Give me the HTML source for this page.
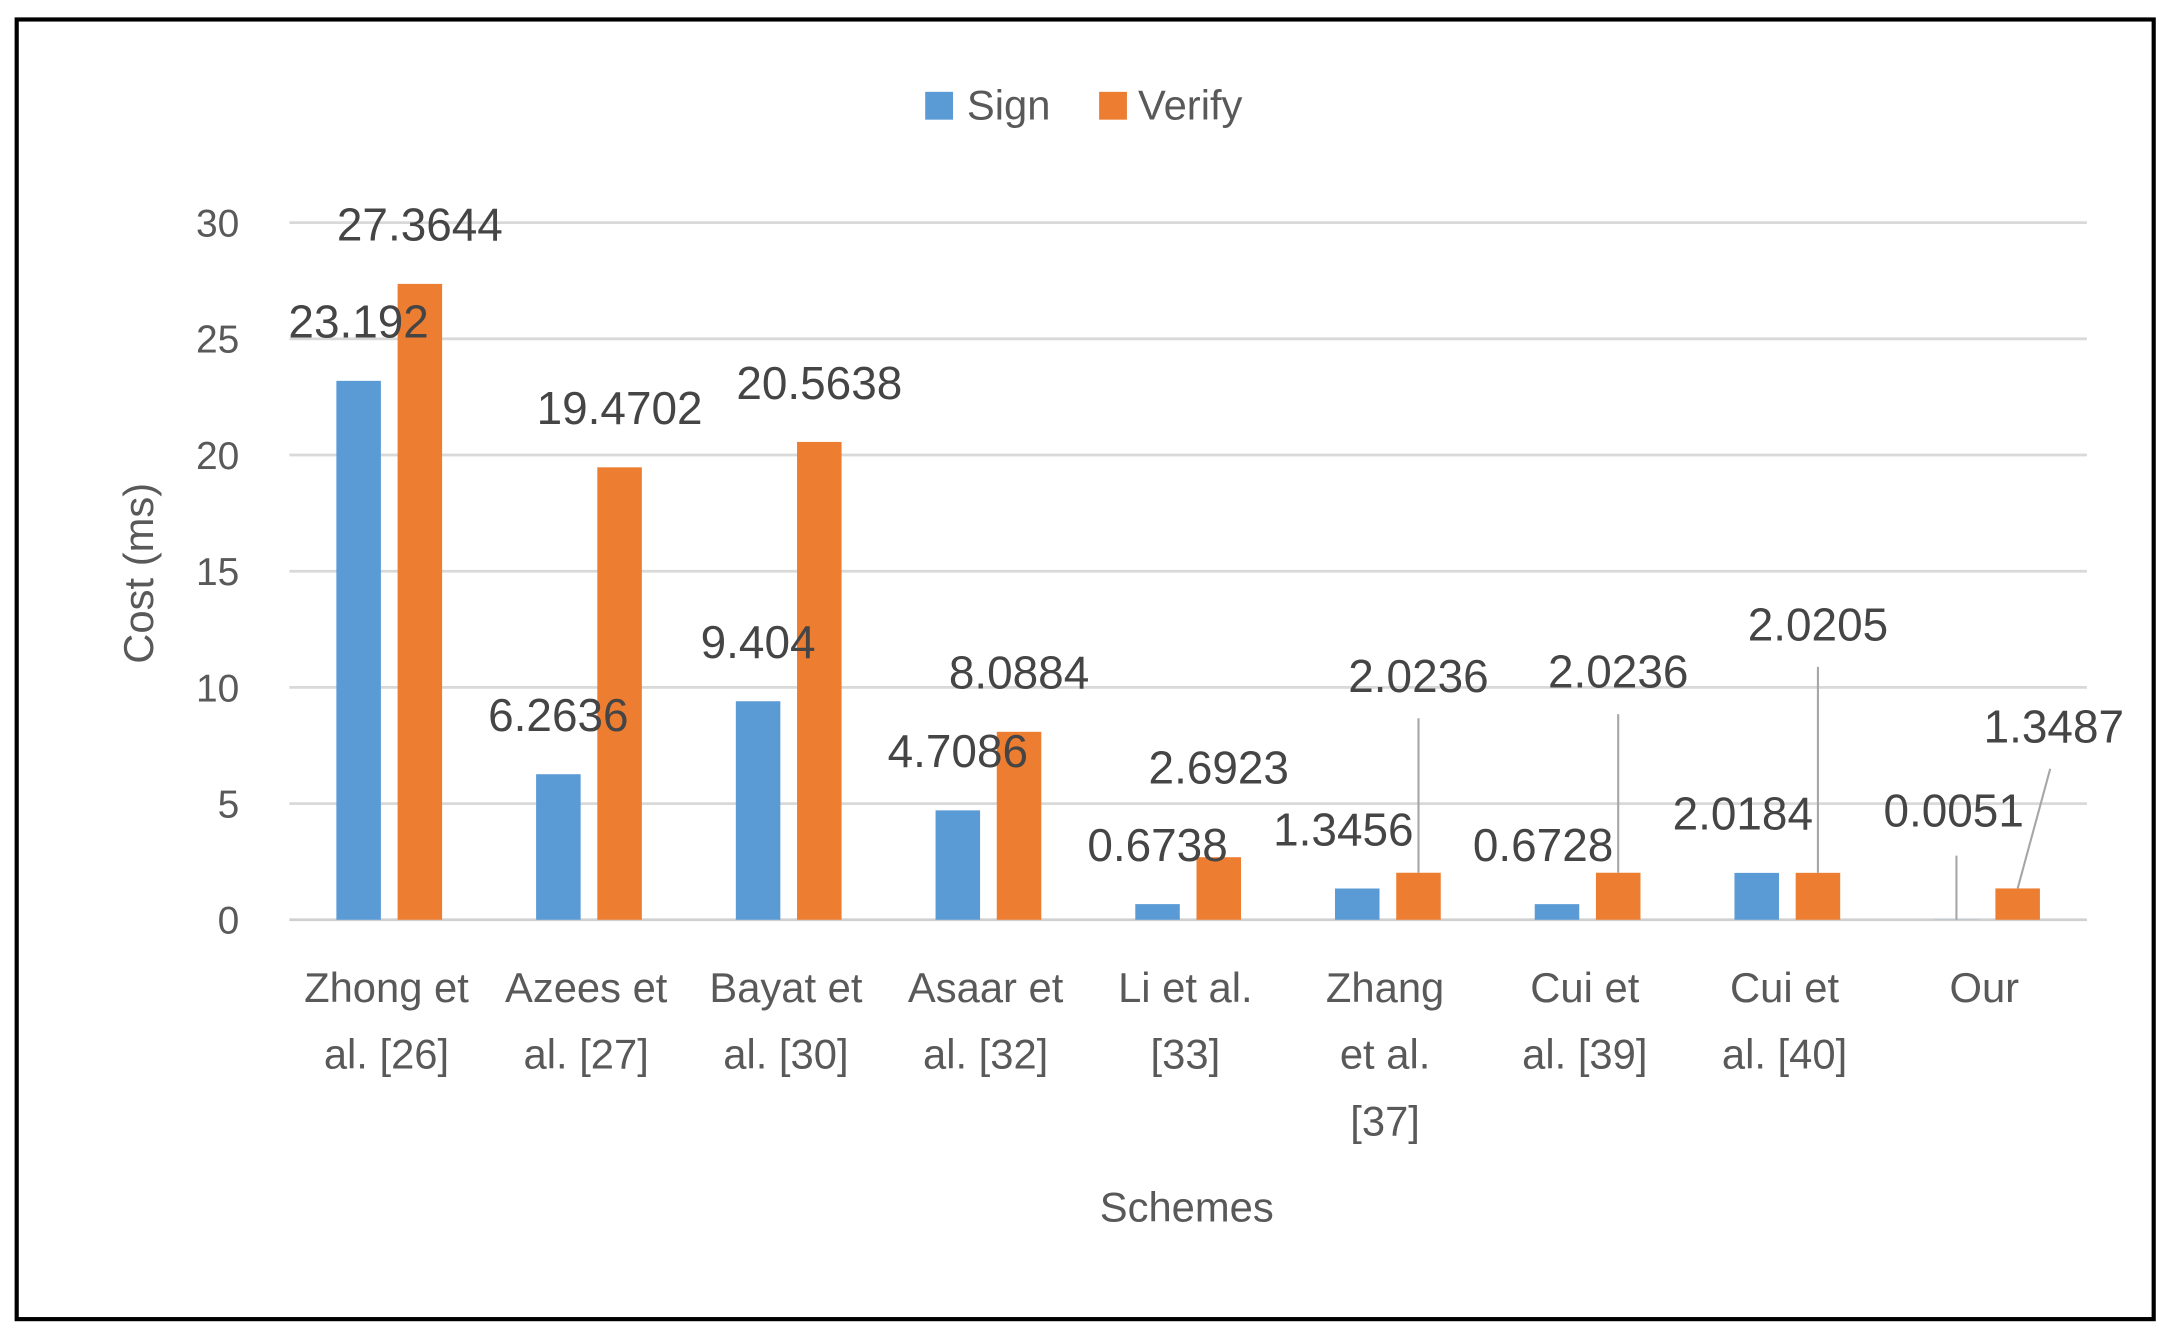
<!DOCTYPE html>
<html><head><meta charset="utf-8"><style>
html,body{margin:0;padding:0;background:#fff;}
svg{display:block;font-family:"Liberation Sans",sans-serif;}
</style></head><body>
<svg id="chart" width="2169" height="1340" viewBox="0 0 1559 963" preserveAspectRatio="none" xmlns="http://www.w3.org/2000/svg">
<rect x="12" y="14" width="1536" height="934" fill="#fff" stroke="#000" stroke-width="3"/>
<g id="grid"></g><g id="bars"></g><g id="labels"></g>
<g>
<rect x="665" y="66" width="20" height="20" fill="#5B9BD5"/>
<text x="695" y="86" font-size="30" fill="#595959">Sign</text>
<rect x="790" y="66" width="20" height="20" fill="#ED7D31"/>
<text x="818" y="86" font-size="30" fill="#595959">Verify</text>
</g>
<text transform="translate(110,412) rotate(-90)" text-anchor="middle" font-size="30" fill="#595959">Cost (ms)</text>
<text x="853" y="878" text-anchor="middle" font-size="30" fill="#595959">Schemes</text>
</svg>
<script>
const categories = [["Zhong et","al. [26]"],["Azees et","al. [27]"],["Bayat et","al. [30]"],["Asaar et","al. [32]"],["Li et al.","[33]"],["Zhang","et al.","[37]"],["Cui et","al. [39]"],["Cui et","al. [40]"],["Our"]];
const signValues = [23.192, 6.2636, 9.404, 4.7086, 0.6738, 1.3456, 0.6728, 2.0184, 0.0051];
const verifyValues = [27.3644, 19.4702, 20.5638, 8.0884, 2.6923, 2.0236, 2.0236, 2.0205, 1.3487];
const signLabels = ["23.192","6.2636","9.404","4.7086","0.6738","1.3456","0.6728","2.0184","0.0051"];
const verifyLabels = ["27.3644","19.4702","20.5638","8.0884","2.6923","2.0236","2.0236","2.0205","1.3487"];
const yTicks = [0,5,10,15,20,25,30];

const NS="http://www.w3.org/2000/svg";
const X0=208,X1=1500,Y0=661,Y30=160;
const y=v=>Y0-(v/30)*(Y0-Y30);
const band=(X1-X0)/categories.length;
const cx=i=>X0+band*(i+0.5);
function mk(tag,attrs,parent,txt){const e=document.createElementNS(NS,tag);for(const k in attrs)e.setAttribute(k,attrs[k]);if(txt!==undefined)e.textContent=txt;document.getElementById(parent).appendChild(e);return e;}

yTicks.forEach(t=>{
  const l=mk('line',{x1:X0,x2:X1,y1:y(t),y2:y(t),stroke:t===0?'#d0d0d0':'#d9d9d9','stroke-width':2},'grid');
  
  
  const tx=mk('text',{x:172,y:y(t)+10,'text-anchor':'end','font-size':28,fill:'#595959'},'grid',String(t));
  
  
});

categories.forEach((lines,i)=>{
  lines.forEach((s,j)=>{
    const t=mk('text',{x:cx(i)-2,y:720+j*48,'text-anchor':'middle','font-size':30,fill:'#595959'},'grid',s);
    
    
  });
});

const BW=32,OFF=22;
const signDx=[0,0,0,0,0,-10,-10,-10,-2];
const verifyDx=[0,0,0,0,0,0,0,0,26];
const signDy=[42,42,42,42,42,42,42,42,78];
const verifyDy=[42,42,42,42,64,141,144,178,116];
signValues.forEach((v,i)=>{
  const b=mk('rect',{x:cx(i)-OFF-BW/2,y:y(v),width:BW,height:Y0-y(v),fill:'#5B9BD5'},'bars');
  
  
  const t=mk('text',{x:cx(i)-OFF+signDx[i],y:y(v)-signDy[i]+11,'text-anchor':'middle','font-size':33,fill:'#454545'},'labels',signLabels[i]);
  
  
  if(signDy[i]>60){
    const l=mk('line',{x1:cx(i)-OFF,y1:y(v)-signDy[i]+32,x2:cx(i)-OFF,y2:y(v),stroke:'#a6a6a6','stroke-width':1.5},'labels');
    
    
  }
});
verifyValues.forEach((v,i)=>{
  const b=mk('rect',{x:cx(i)+OFF-BW/2,y:y(v),width:BW,height:Y0-y(v),fill:'#ED7D31'},'bars');
  
  
  const t=mk('text',{x:cx(i)+OFF+verifyDx[i],y:y(v)-verifyDy[i]+11,'text-anchor':'middle','font-size':33,fill:'#454545'},'labels',verifyLabels[i]);
  
  
  if(verifyDy[i]>70){
    const l=mk('line',{x1:cx(i)+OFF+verifyDx[i]*0.9,y1:y(v)-verifyDy[i]+30,x2:cx(i)+OFF,y2:y(v),stroke:'#a6a6a6','stroke-width':1.5},'labels');
    
    
  }
});
</script>
</body></html>
